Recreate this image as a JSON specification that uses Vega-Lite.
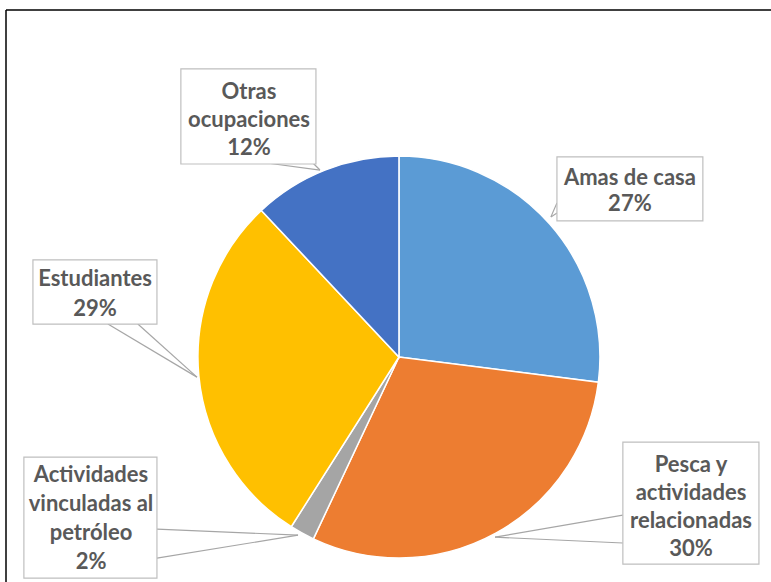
{
  "$schema": "https://vega.github.io/schema/vega-lite/v6.json",
  "autosize": "none",
  "width": 765,
  "height": 572,
  "padding": {"left": 6, "top": 10, "right": 0, "bottom": 0},
  "background": "white",
  "config": {"view": {"stroke": null}, "font": "Lato"},
  "data": {"values": [
    {"cat": "Amas de casa", "etiqueta": "Amas de casa", "valor": 27, "orden": 1},
    {"cat": "Pesca y actividades relacionadas", "etiqueta": "Pesca y\nactividades\nrelacionadas", "valor": 30, "orden": 2},
    {"cat": "Actividades vinculadas al petróleo", "etiqueta": "Actividades\nvinculadas al\npetróleo", "valor": 2, "orden": 3},
    {"cat": "Estudiantes", "etiqueta": "Estudiantes", "valor": 29, "orden": 4},
    {"cat": "Otras ocupaciones", "etiqueta": "Otras\nocupaciones", "valor": 12, "orden": 5}
  ]},
  "transform": [{"calculate": "datum.etiqueta + '\\n' + datum.valor + '%'", "as": "texto"}],
  "layer": [
    {
      "mark": {"type": "arc", "outerRadius": 201, "stroke": "white", "strokeWidth": 1.5},
      "encoding": {
        "x": {"datum": 0, "type": "quantitative", "scale": {"domain": [-1.955, 1.851], "nice": false, "zero": false}, "axis": null},
        "y": {"datum": 0, "type": "quantitative", "scale": {"domain": [-1.119, 1.726], "nice": false, "zero": false}, "axis": null},
        "theta": {"field": "valor", "type": "quantitative", "stack": true},
        "order": {"field": "orden", "type": "quantitative"},
        "color": {
          "field": "cat", "type": "nominal", "legend": null,
          "scale": {
            "domain": ["Amas de casa", "Pesca y actividades relacionadas", "Actividades vinculadas al petróleo", "Estudiantes", "Otras ocupaciones"],
            "range": ["#5B9BD5", "#ED7D31", "#A5A5A5", "#FFC000", "#4472C4"]
          }
        }
      }
    },
    {
      "transform": [{"filter": "datum.orden === 1"}],
      "layer": [
        {"mark": {"type": "rule", "color": "#000000", "strokeWidth": 1.5},
         "encoding": {"x": {"datum": -1.955, "type": "quantitative"}, "x2": {"datum": 1.851}, "y": {"datum": 1.726, "type": "quantitative"}}},
        {"mark": {"type": "rule", "color": "#000000", "strokeWidth": 1.5},
         "encoding": {"x": {"datum": -1.955, "type": "quantitative"}, "y": {"datum": 1.726, "type": "quantitative"}, "y2": {"datum": -1.119}}}
      ]
    },
    {
      "transform": [{"filter": "datum.orden === 5"}],
      "layer": [
        {"mark": {"type": "rule", "color": "#A6A6A6", "strokeWidth": 1.2},
         "encoding": {"x": {"datum": -0.657, "type": "quantitative"}, "y": {"datum": 0.965, "type": "quantitative"}, "x2": {"datum": -0.393}, "y2": {"datum": 0.930}}},
        {"mark": {"type": "rule", "color": "#A6A6A6", "strokeWidth": 1.2},
         "encoding": {"x": {"datum": -0.428, "type": "quantitative"}, "y": {"datum": 0.965, "type": "quantitative"}, "x2": {"datum": -0.393}, "y2": {"datum": 0.930}}},
        {"mark": {"type": "rect", "fill": "white", "stroke": "#BFBFBF", "strokeWidth": 1.2},
         "encoding": {"x": {"datum": -1.085, "type": "quantitative"}, "x2": {"datum": -0.413}, "y": {"datum": 1.433, "type": "quantitative"}, "y2": {"datum": 0.960}}},
        {"mark": {"type": "text", "font": "Lato", "fontWeight": "bold", "fontSize": 22, "color": "#595959", "lineBreak": "\n", "lineHeight": 28, "align": "center", "baseline": "middle"},
         "encoding": {"x": {"datum": -0.746, "type": "quantitative"}, "y": {"datum": 1.318, "type": "quantitative"}, "text": {"field": "texto"}}}
      ]
    },
    {
      "transform": [{"filter": "datum.orden === 1"}],
      "layer": [
        {"mark": {"type": "rule", "color": "#A6A6A6", "strokeWidth": 1.2},
         "encoding": {"x": {"datum": 0.786, "type": "quantitative"}, "y": {"datum": 0.766, "type": "quantitative"}, "x2": {"datum": 0.756}, "y2": {"datum": 0.697}}},
        {"mark": {"type": "rule", "color": "#A6A6A6", "strokeWidth": 1.2},
         "encoding": {"x": {"datum": 0.786, "type": "quantitative"}, "y": {"datum": 0.716, "type": "quantitative"}, "x2": {"datum": 0.756}, "y2": {"datum": 0.697}}},
        {"mark": {"type": "rect", "fill": "white", "stroke": "#BFBFBF", "strokeWidth": 1.2},
         "encoding": {"x": {"datum": 0.786, "type": "quantitative"}, "x2": {"datum": 1.512}, "y": {"datum": 0.995, "type": "quantitative"}, "y2": {"datum": 0.677}}},
        {"mark": {"type": "text", "font": "Lato", "fontWeight": "bold", "fontSize": 22, "color": "#595959", "lineBreak": "\n", "lineHeight": 26, "align": "center", "baseline": "middle"},
         "encoding": {"x": {"datum": 1.149, "type": "quantitative"}, "y": {"datum": 0.891, "type": "quantitative"}, "text": {"field": "texto"}}}
      ]
    },
    {
      "transform": [{"filter": "datum.orden === 4"}],
      "layer": [
        {"mark": {"type": "rule", "color": "#A6A6A6", "strokeWidth": 1.2},
         "encoding": {"x": {"datum": -1.448, "type": "quantitative"}, "y": {"datum": 0.164, "type": "quantitative"}, "x2": {"datum": -1.005}, "y2": {"datum": -0.1}}},
        {"mark": {"type": "rule", "color": "#A6A6A6", "strokeWidth": 1.2},
         "encoding": {"x": {"datum": -1.299, "type": "quantitative"}, "y": {"datum": 0.164, "type": "quantitative"}, "x2": {"datum": -1.005}, "y2": {"datum": -0.1}}},
        {"mark": {"type": "rect", "fill": "white", "stroke": "#BFBFBF", "strokeWidth": 1.2},
         "encoding": {"x": {"datum": -1.821, "type": "quantitative"}, "x2": {"datum": -1.204}, "y": {"datum": 0.483, "type": "quantitative"}, "y2": {"datum": 0.164}}},
        {"mark": {"type": "text", "font": "Lato", "fontWeight": "bold", "fontSize": 22, "color": "#595959", "lineBreak": "\n", "lineHeight": 30, "align": "center", "baseline": "middle"},
         "encoding": {"x": {"datum": -1.512, "type": "quantitative"}, "y": {"datum": 0.388, "type": "quantitative"}, "text": {"field": "texto"}}}
      ]
    },
    {
      "transform": [{"filter": "datum.orden === 3"}],
      "layer": [
        {"mark": {"type": "rule", "color": "#A6A6A6", "strokeWidth": 1.2},
         "encoding": {"x": {"datum": -1.204, "type": "quantitative"}, "y": {"datum": -0.856, "type": "quantitative"}, "x2": {"datum": -0.502}, "y2": {"datum": -0.886}}},
        {"mark": {"type": "rule", "color": "#A6A6A6", "strokeWidth": 1.2},
         "encoding": {"x": {"datum": -1.204, "type": "quantitative"}, "y": {"datum": -1.0, "type": "quantitative"}, "x2": {"datum": -0.502}, "y2": {"datum": -0.886}}},
        {"mark": {"type": "rect", "fill": "white", "stroke": "#BFBFBF", "strokeWidth": 1.2},
         "encoding": {"x": {"datum": -1.866, "type": "quantitative"}, "x2": {"datum": -1.204}, "y": {"datum": -0.498, "type": "quantitative"}, "y2": {"datum": -1.1}}},
        {"mark": {"type": "text", "font": "Lato", "fontWeight": "bold", "fontSize": 22, "color": "#595959", "lineBreak": "\n", "lineHeight": 29, "align": "center", "baseline": "middle"},
         "encoding": {"x": {"datum": -1.532, "type": "quantitative"}, "y": {"datum": -0.587, "type": "quantitative"}, "text": {"field": "texto"}}}
      ]
    },
    {
      "transform": [{"filter": "datum.orden === 2"}],
      "layer": [
        {"mark": {"type": "rule", "color": "#A6A6A6", "strokeWidth": 1.2},
         "encoding": {"x": {"datum": 1.114, "type": "quantitative"}, "y": {"datum": -0.786, "type": "quantitative"}, "x2": {"datum": 0.478}, "y2": {"datum": -0.896}}},
        {"mark": {"type": "rule", "color": "#A6A6A6", "strokeWidth": 1.2},
         "encoding": {"x": {"datum": 1.114, "type": "quantitative"}, "y": {"datum": -0.925, "type": "quantitative"}, "x2": {"datum": 0.478}, "y2": {"datum": -0.896}}},
        {"mark": {"type": "rect", "fill": "white", "stroke": "#BFBFBF", "strokeWidth": 1.2},
         "encoding": {"x": {"datum": 1.114, "type": "quantitative"}, "x2": {"datum": 1.791}, "y": {"datum": -0.423, "type": "quantitative"}, "y2": {"datum": -1.03}}},
        {"mark": {"type": "text", "font": "Lato", "fontWeight": "bold", "fontSize": 22, "color": "#595959", "lineBreak": "\n", "lineHeight": 28, "align": "center", "baseline": "middle"},
         "encoding": {"x": {"datum": 1.453, "type": "quantitative"}, "y": {"datum": -0.537, "type": "quantitative"}, "text": {"field": "texto"}}}
      ]
    }
  ]
}
